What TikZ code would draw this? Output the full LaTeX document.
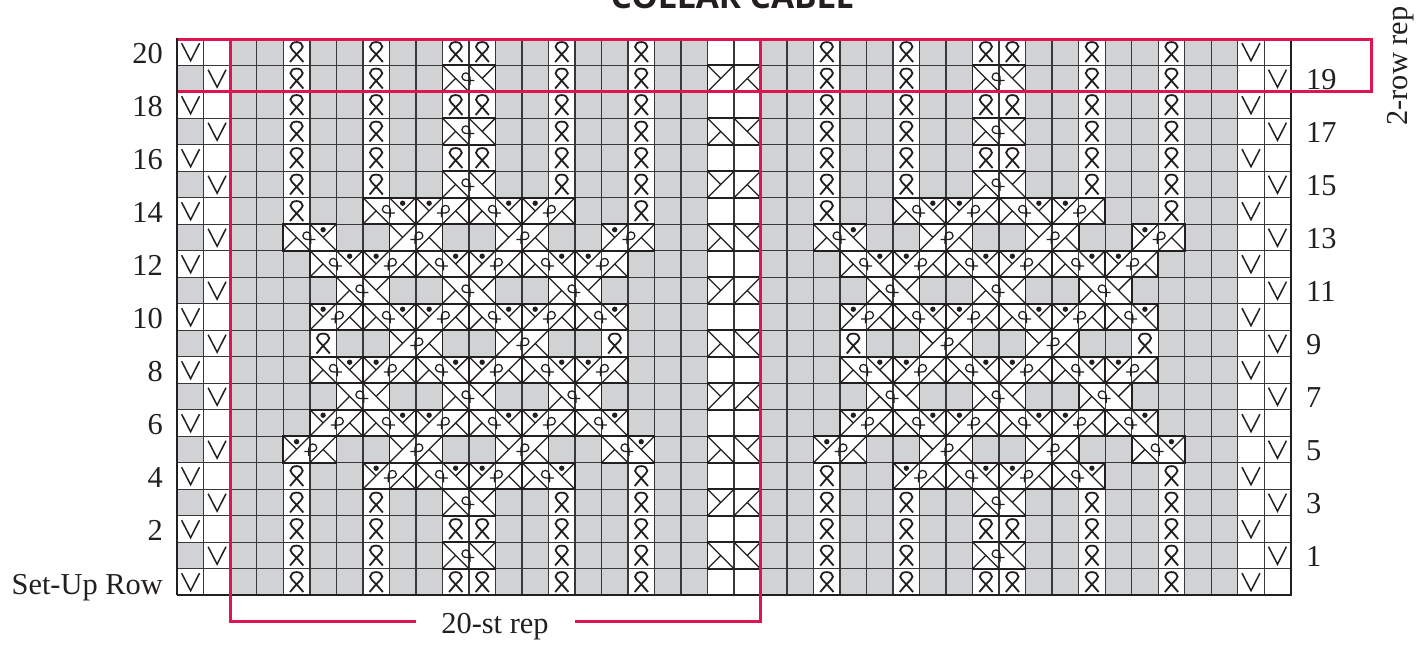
\documentclass[tikz,border=0pt]{standalone}
\usepackage{fontspec}
\setmainfont{Liberation Serif}
\newfontfamily\titlefont{Open Sans}
\definecolor{ink}{HTML}{231F20}
\definecolor{gridc}{HTML}{38383A}
\definecolor{cellgrey}{HTML}{D0D2D4}
\definecolor{repred}{HTML}{DF1451}
\newcommand{\cellpos}[2]{({177.3+(#1)*26.51},{38.7+(#2)*26.5})}
\tikzset{
  gridline/.style={draw=gridc,line width=1.3pt},
  frame/.style={draw=ink,line width=2.3pt},
  repline/.style={draw=repred,line width=3pt},
  sym/.style={draw=ink,line width=1.8pt},
  diag/.style={draw=ink,line width=1.25pt},
  lab/.style={text=ink,font=\fontsize{30.4}{31}\selectfont,inner sep=0pt},
  pairbox/.style={draw=ink,line width=1.7pt,fill=white},
  pics/twist/.style={code={
    \draw[gridline,fill=white] (0,0) rectangle (26.51,26.5);
    \draw[sym] (6.7,23.3) -- (13.25,15.5) .. controls (17,11.5) and (19.4,10) .. (19.4,8)
      .. controls (19.4,5) and (16.5,3.4) .. (13.25,3.4) .. controls (10,3.4) and (7.1,5) .. (7.1,8)
      .. controls (7.1,10) and (9.5,11.5) .. (13.25,15.5) -- (20,23.3);
  }},
  pics/slip/.style={code={
    \draw[sym,line width=1.5pt] (4.3,4.5) -- (13.3,22) -- (22.2,4.5);
  }},
  pics/down/.style={code={
    \draw[pairbox] (0,0) rectangle (53.02,26.5);
    \draw[gridline] (26.51,0) -- (26.51,26.5);
    \draw[diag] (0,0) -- (26.51,26.5) (26.51,0) -- (53.02,26.5)
      (0,26.5) -- (13.25,13.25) (53.02,0) -- (39.77,13.25);
  }},
  pics/up/.style={code={
    \draw[pairbox] (0,0) rectangle (53.02,26.5);
    \draw[gridline] (26.51,0) -- (26.51,26.5);
    \draw[diag] (0,26.5) -- (26.51,0) (26.51,26.5) -- (53.02,0)
      (0,0) -- (13.25,13.25) (53.02,26.5) -- (39.77,13.25);
  }},
  pics/loopleft/.style={code={
    \draw[diag] (32,15.3) -- (24.5,15.3) .. controls (21,15.3) and (19.5,13.2) .. (19.5,11.7)
      .. controls (19.5,9) and (21.5,7.7) .. (23.5,7.7) .. controls (26,7.7) and (27.5,9.7) .. (27.5,12.2) -- (27.5,19.7);
  }},
  pics/loopright/.style={code={
    \draw[diag] (21,15.3) -- (28.5,15.3) .. controls (32,15.3) and (33.5,13.2) .. (33.5,11.7)
      .. controls (33.5,9) and (31.5,7.7) .. (29.5,7.7) .. controls (27,7.7) and (25.5,9.7) .. (25.5,12.2) -- (25.5,19.7);
  }},
  pics/dotleft/.style={code={\fill[ink] (13.25,5.5) circle (2.7);}},
  pics/dotright/.style={code={\fill[ink] (39.76,5.5) circle (2.7);}},
}
\begin{document}
\begin{tikzpicture}[x=1pt,y=-1pt]
\useasboundingbox (0,0) rectangle (1422,646);
% ground
\fill[cellgrey] \cellpos{0}{0} rectangle \cellpos{42}{21};
\fill[white] \cellpos{20}{0} rectangle \cellpos{22}{21};
\fill[white] \cellpos{40}{0} rectangle \cellpos{42}{21};
\fill[white] \cellpos{1}{0} rectangle \cellpos{2}{21};
\foreach \r in {0,2,...,20} \fill[white] \cellpos{0}{\r} rectangle \cellpos{1}{\r+1};
% grid
\foreach \c in {1,...,41} \draw[gridline] \cellpos{\c}{0} -- \cellpos{\c}{21};
\foreach \r in {1,...,20} \draw[gridline] \cellpos{0}{\r} -- \cellpos{42}{\r};
% selvage slip stitches
\foreach \r in {0,2,...,20} {
  \pic at \cellpos{0}{\r} {slip};
  \pic at \cellpos{40}{\r} {slip};
}
\foreach \r in {1,3,...,19} {
  \pic at \cellpos{1}{\r} {slip};
  \pic at \cellpos{41}{\r} {slip};
}
% two-stitch cable column
\foreach \r in {1,5,9,13,17} \pic at \cellpos{20}{\r} {up};
\foreach \r in {3,7,11,15,19} \pic at \cellpos{20}{\r} {down};
% repeated panel
\foreach \o in {0,20} {
  % twisted stitches
  \foreach \r in {0,1,2,3,4,5,17,18,19,20} {
    \pic at \cellpos{4+\o}{\r} {twist};
    \pic at \cellpos{7+\o}{\r} {twist};
    \pic at \cellpos{14+\o}{\r} {twist};
    \pic at \cellpos{17+\o}{\r} {twist};
  }
  \foreach \r in {0,2,4,18,20} {
    \pic at \cellpos{10+\o}{\r} {twist};
    \pic at \cellpos{11+\o}{\r} {twist};
  }
  \foreach \c/\r in {4/6,17/6,5/11,16/11,4/16,17/16}
    \pic at \cellpos{\c+\o}{\r} {twist};
  % crosses leaning down, loop left, plain
  \foreach \c/\r in {10/1,10/3,10/5,10/17,10/19,6/9,10/9,14/9,6/13,10/13,14/13} {
    \pic at \cellpos{\c+\o}{\r} {down};
    \pic at \cellpos{\c+\o}{\r} {loopleft};
  }
  % crosses leaning up, loop right, plain
  \foreach \c/\r in {8/7,12/7,8/11,12/11,8/15,12/15} {
    \pic at \cellpos{\c+\o}{\r} {up};
    \pic at \cellpos{\c+\o}{\r} {loopright};
  }
  % crosses leaning down with dot
  \foreach \c/\r in {7/6,11/6,4/7,5/8,9/8,13/8,7/10,11/10,15/10,5/12,9/12,13/12,7/14,11/14,15/14,16/15,9/16,13/16} {
    \pic at \cellpos{\c+\o}{\r} {down};
    \pic at \cellpos{\c+\o}{\r} {loopleft};
    \pic at \cellpos{\c+\o}{\r} {dotright};
  }
  % crosses leaning up with dot
  \foreach \c/\r in {9/6,13/6,16/7,7/8,11/8,15/8,5/10,9/10,13/10,7/12,11/12,15/12,5/14,9/14,13/14,4/15,7/16,11/16} {
    \pic at \cellpos{\c+\o}{\r} {up};
    \pic at \cellpos{\c+\o}{\r} {loopright};
    \pic at \cellpos{\c+\o}{\r} {dotleft};
  }
}
% outer frame
\draw[frame] \cellpos{42}{0} -- \cellpos{42}{21} -- \cellpos{0}{21};
% repeat marks
\coordinate (boxTL) at (178,39);
\coordinate (boxTR) at (1371,39);
\coordinate (boxBR) at (1371,91.7);
\coordinate (boxBL) at (178,91.7);
\draw[repline,line join=miter] (boxTL) -- (boxTR) -- (boxBR) -- (boxBL);
\coordinate (repTL) at (230.3,39);
\coordinate (repBL) at (230.3,621.5);
\coordinate (repTR) at (760.3,39);
\coordinate (repBR) at (760.3,621.5);
\coordinate (repGapL) at (415.7,621.5);
\coordinate (repGapR) at (575,621.5);
\draw[repline,line join=miter] (repTL) -- (repBL) -- (repGapL);
\draw[repline,line join=miter] (repTR) -- (repBR) -- (repGapR);
\draw[frame] (177.3,38) -- \cellpos{0}{21};
% labels
\node[text=ink,font=\titlefont\bfseries\fontsize{33.5}{33.5}\selectfont,inner sep=0pt,anchor=base] (title) at (732.5,8.5) {COLLAR CABLE};
\foreach \n/\r in {20/0,18/2,16/4,14/6,12/8,10/10,8/12,6/14,4/16,2/18}
  \node[lab,anchor=base east] (even\n) at (163,{38.7+\r*26.5+24.5}) {\n};
\foreach \n/\r in {19/1,17/3,15/5,13/7,11/9,9/11,7/13,5/15,3/17,1/19}
  \node[lab,anchor=base west] (odd\n) at (1306,{38.7+\r*26.5+24}) {\n};
\node[lab,anchor=base east] (setup) at (163,594) {Set-Up Row};
\node[lab,anchor=base] (stlabel) at (495,633) {20-st rep};
\node[lab,anchor=base,rotate=90] (rowlabel) at (1407,66) {2-row rep};
\end{tikzpicture}
\end{document}
